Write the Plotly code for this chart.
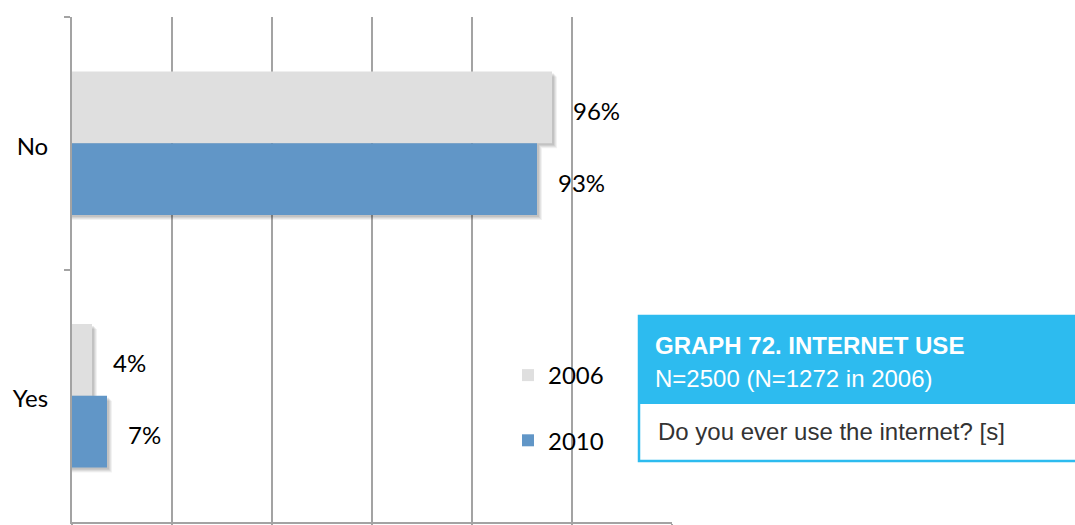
import plotly.graph_objects as go

# Survey answers, share of respondents (%)
categories = ["No", "Yes"]
years = ["2006", "2010"]
share_2006 = [96, 4]
share_2010 = [93, 7]

colors = {"2006": "#DFDFDF", "2010": "#6196C7"}
series = {"2006": share_2006, "2010": share_2010}

# Figure geometry (pixels) used to place bars and text
W, H = 1075, 525
M_L, M_R, M_T, M_B = 72, 403, 17, 3
PLOT_W = W - M_L - M_R
PLOT_H = H - M_T - M_B
X_MAX = 120
PX_X = X_MAX / PLOT_W           # data units per pixel (x)
PX_Y = 2.0 / PLOT_H             # category units per pixel (y)

BAR_W = 0.284
offsets = {"2006": -BAR_W, "2010": 0.0}

fig = go.Figure()

# soft drop shadows under each bar
for shift, alpha in [(5, 0.05), (4, 0.06), (3, 0.07), (2, 0.08)]:
    for yr in years:
        fig.add_trace(go.Bar(
            y=categories,
            x=[v + shift * PX_X for v in series[yr]],
            orientation="h",
            width=BAR_W,
            offset=offsets[yr] + shift * PX_Y,
            marker=dict(color=f"rgba(0,0,0,{alpha})", line=dict(width=0)),
            showlegend=False,
            hoverinfo="skip",
        ))

for i, yr in enumerate(years):
    fig.add_trace(go.Bar(
        y=categories,
        x=series[yr],
        orientation="h",
        name=yr,
        width=BAR_W,
        offset=offsets[yr],
        marker=dict(color=colors[yr], line=dict(width=0)),
        legendgroup=yr,
    ))

# value labels beside the bars
annotations = []
for yr in years:
    for cat, v in zip(categories, series[yr]):
        yc = categories.index(cat) + offsets[yr] + BAR_W / 2
        annotations.append(dict(
            x=v, y=yc, xref="x", yref="y",
            text=f"{v}%", showarrow=False,
            xanchor="left", yanchor="middle",
            xshift=19, yshift=-3,
            font=dict(family="Lato", size=24, color="#000000"),
        ))


def px_x(p):
    return (p - M_L) / PLOT_W


def px_y(p):
    return (H - M_B - p) / PLOT_H


# title box
box_l, box_r = 639, 1085
head_t, head_b, box_b = 316, 404, 461
shapes = [
    dict(type="rect", xref="paper", yref="paper", layer="below",
         x0=px_x(box_l), x1=px_x(box_r), y0=px_y(box_b), y1=px_y(head_t),
         fillcolor="#FFFFFF", line=dict(color="#2DBBEF", width=2.5)),
    dict(type="rect", xref="paper", yref="paper", layer="below",
         x0=px_x(box_l), x1=px_x(box_r), y0=px_y(head_b), y1=px_y(head_t),
         fillcolor="#2DBBEF", line=dict(width=0)),
]
annotations += [
    dict(x=px_x(653), y=px_y(345), xref="paper", yref="paper",
         text="<b>GRAPH 72. INTERNET USE</b>", showarrow=False,
         xanchor="left", yanchor="middle",
         font=dict(family="Liberation Sans", size=24, color="#FFFFFF")),
    dict(x=px_x(653), y=px_y(378), xref="paper", yref="paper",
         text="N=2500 (N=1272 in 2006)", showarrow=False,
         xanchor="left", yanchor="middle",
         font=dict(family="Liberation Sans", size=24, color="#FFFFFF")),
    dict(x=px_x(656), y=px_y(431), xref="paper", yref="paper",
         text="Do you ever use the internet? [s]", showarrow=False,
         xanchor="left", yanchor="middle",
         font=dict(family="Liberation Sans", size=24, color="#333333")),
]

fig.update_layout(
    width=W, height=H,
    margin=dict(l=M_L, r=M_R, t=M_T, b=M_B, pad=0),
    barmode="overlay",
    paper_bgcolor="#FFFFFF",
    plot_bgcolor="rgba(0,0,0,0)",
    shapes=shapes,
    annotations=annotations,
    showlegend=True,
    legend=dict(
        x=px_x(508), y=px_y(353), xanchor="left", yanchor="top",
        font=dict(family="Lato", size=24, color="#000000"),
        bgcolor="rgba(0,0,0,0)", tracegroupgap=31,
    ),
    xaxis=dict(
        range=[0, X_MAX], dtick=20, showticklabels=False, automargin=False,
        showgrid=True, gridcolor="#A3A3A3", gridwidth=2,
        zeroline=False, showline=True, linecolor="#A3A3A3", linewidth=2,
        ticks="outside", ticklen=6, tickcolor="#A3A3A3", tickwidth=2,
    ),
    yaxis=dict(
        categoryorder="array", categoryarray=categories,
        range=[1.5, -0.5], automargin=False,
        showline=True, linecolor="#A3A3A3", linewidth=2,
        ticks="outside", ticklen=6, tickcolor="#A3A3A3", tickwidth=2,
        tickson="boundaries", showgrid=False, zeroline=False,
        tickfont=dict(family="Lato", size=24, color="#000000"),
        ticklabelstandoff=17, ticklabelshift=-3,
    ),
)

fig.write_html("out.html")
